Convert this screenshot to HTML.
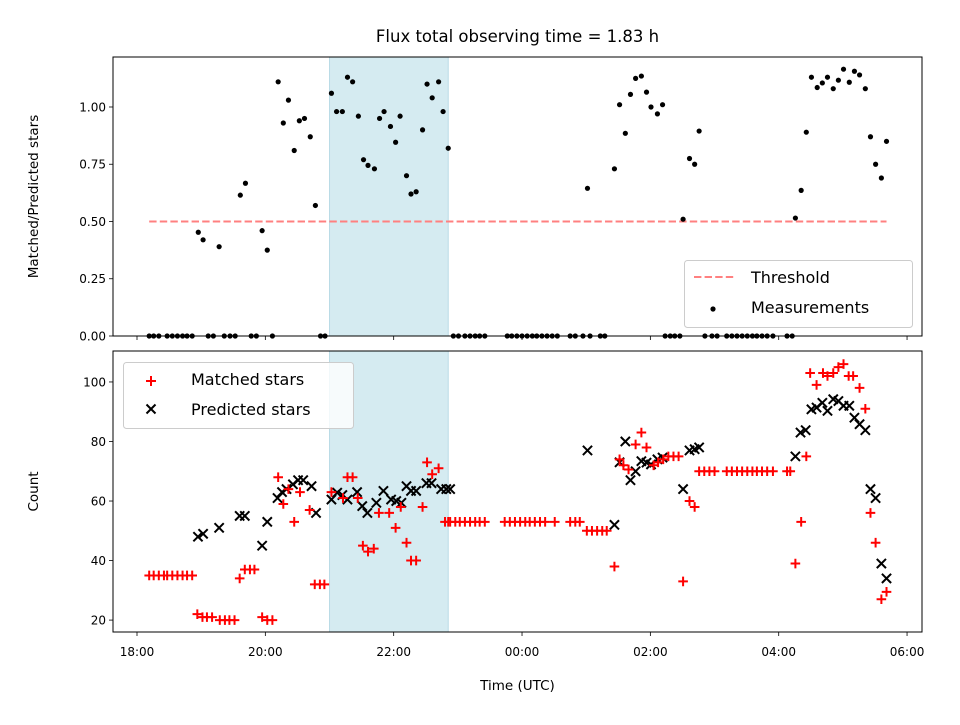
<!DOCTYPE html>
<html><head><meta charset="utf-8"><style>
body{margin:0;background:#fff}
svg text{font-family:"DejaVu Sans","Liberation Sans",sans-serif;fill:#000}
</style></head><body>
<svg id="chart" width="960" height="720" viewBox="0 0 960 720" xmlns="http://www.w3.org/2000/svg">
<rect width="960" height="720" fill="#fff"/>
<text x="517.5" y="42" font-size="16.5" text-anchor="middle">Flux total observing time = 1.83 h</text>
<g id="topPanel"></g><g id="botPanel"></g>
</svg>
<script>
// hours since 18:00
const ratioTimes=[0.19,0.26,0.34,0.47,0.55,0.63,0.71,0.78,0.86,1.11,1.19,1.36,1.45,1.53,1.78,1.86,2.11,2.86,2.93,4.93,5.01,5.11,5.19,5.27,5.34,5.42,5.77,5.84,5.92,6.00,6.08,6.16,6.23,6.31,6.39,6.47,6.55,6.75,6.83,6.95,7.06,7.22,7.29,8.23,8.31,8.38,8.46,8.85,8.96,9.04,9.19,9.27,9.35,9.43,9.51,9.59,9.66,9.74,9.82,9.91,10.13,10.21,
0.955,1.03,1.28,1.61,1.69,1.95,2.03,2.20,2.28,2.36,2.45,2.53,2.61,2.70,2.78,3.03,3.11,3.20,3.28,3.36,3.45,3.53,3.60,3.70,3.78,3.85,3.95,4.03,4.10,4.20,4.27,4.35,4.45,4.52,4.60,4.70,4.77,4.85,
7.02,7.44,7.52,7.61,7.69,7.77,7.86,7.94,8.01,8.11,8.19,8.51,8.61,8.69,8.76,10.26,10.35,10.43,10.51,10.60,10.68,10.76,10.85,10.93,11.01,11.10,11.18,11.26,11.35,11.43,11.51,11.60,11.68];
const ratioValues=[0,0,0,0,0,0,0,0,0,0,0,0,0,0,0,0,0,0,0,0,0,0,0,0,0,0,0,0,0,0,0,0,0,0,0,0,0,0,0,0,0,0,0,0,0,0,0,0,0,0,0,0,0,0,0,0,0,0,0,0,0,0,
0.453,0.42,0.39,0.615,0.667,0.46,0.375,1.11,0.93,1.03,0.81,0.94,0.95,0.87,0.57,1.06,0.98,0.98,1.13,1.11,0.96,0.77,0.745,0.73,0.95,0.98,0.915,0.846,0.96,0.70,0.62,0.63,0.90,1.10,1.04,1.11,0.98,0.82,
0.645,0.73,1.01,0.885,1.055,1.125,1.135,1.065,1.00,0.97,1.01,0.51,0.775,0.75,0.895,0.515,0.636,0.89,1.13,1.085,1.105,1.13,1.08,1.117,1.165,1.108,1.156,1.14,1.08,0.87,0.75,0.69,0.85];
const thresholdValue=0.5, thresholdStart=0.19, thresholdEnd=11.68;
const shadeStart=3.0, shadeEnd=4.85;
const matchedTimes=[0.19,0.26,0.34,0.42,0.47,0.55,0.63,0.71,0.78,0.86,0.94,1.02,1.09,1.17,1.29,1.37,1.44,1.52,1.95,2.03,2.11,1.60,1.68,1.76,1.83,2.77,2.85,2.92,
2.20,2.28,2.36,2.45,2.54,2.69,3.03,3.21,3.28,3.36,3.44,3.52,3.60,3.69,3.77,3.93,4.03,4.11,4.20,4.27,4.35,4.45,4.52,4.60,4.70,4.80,4.85,
4.88,4.96,5.03,5.11,5.19,5.27,5.34,5.42,5.73,5.81,5.89,5.97,6.05,6.12,6.20,6.28,6.36,6.51,6.75,6.83,6.90,7.01,7.09,7.17,7.25,7.32,7.44,
7.52,7.58,7.66,7.77,7.86,7.94,8.05,8.12,8.20,8.28,8.36,8.44,8.51,8.61,8.69,8.76,8.84,8.92,9.00,9.19,9.27,9.35,9.43,9.51,9.59,9.66,9.74,9.82,9.91,10.13,10.18,
10.26,10.35,10.43,10.49,10.59,10.69,10.76,10.85,10.93,11.01,11.09,11.16,11.26,11.35,11.43,11.51,11.60,11.68];
const matchedValues=[35,35,35,35,35,35,35,35,35,35,22,21,21,21,20,20,20,20,21,20,20,34,37,37,37,32,32,32,
68,59,64,53,63,57,63,61,68,68,61,45,43,44,56,56,51,58,46,40,40,58,73,69,71,53,53,
53,53,53,53,53,53,53,53,53,53,53,53,53,53,53,53,53,53,53,53,53,50,50,50,50,50,38,
74,72,70.6,79,83,78,72,73,74,75,75,75,33,60,58,70,70,70,70,70,70,70,70,70,70,70,70,70,70,70,70,
39,53,75,103,99,103,102,103,105,106,102,102,98,91,56,46,27,29.5];
const predictedTimes=[0.95,1.03,1.28,1.60,1.68,1.95,2.03,2.19,2.26,2.33,2.43,2.51,2.59,2.72,2.79,3.03,3.12,3.20,3.28,3.43,3.51,3.59,3.73,3.84,3.96,4.04,4.12,4.20,4.27,4.35,4.51,4.59,4.74,4.82,4.88,
7.02,7.44,7.52,7.61,7.69,7.77,7.86,7.94,8.01,8.11,8.19,8.51,8.61,8.69,8.76,10.26,10.34,10.42,10.51,10.59,10.68,10.76,10.85,10.93,11.01,11.10,11.18,11.26,11.35,11.43,11.51,11.60,11.68];
const predictedValues=[48,49,51,55,55,45,53,61,63,64,65.6,67,67,65,56,60.5,62.8,62,60.5,63,58.3,56,59.4,63.4,60.5,60,59.4,65,63.4,63.4,66,66,64,64,64,
77,52,73,80,67,70,73.4,72.9,72.3,74,74.6,64,77,77.4,78,75,83,83.8,90.8,91.4,93,90.3,94.2,93.6,92,92,88,85.8,83.8,64,61,39,34];
const xTickHours=[0,2,4,6,8,10,12];
const xTickLabels=["18:00","20:00","22:00","00:00","02:00","04:00","06:00"];
const topTicks=[0,0.25,0.5,0.75,1.0];
const topTickLabels=["0.00","0.25","0.50","0.75","1.00"];
const botTicks=[20,40,60,80,100];
const botTickLabels=["20","40","60","80","100"];

const NS="http://www.w3.org/2000/svg";
const L=113,R=922,xMin=-0.374,xMax=12.233;
const xs=h=>L+(h-xMin)/(xMax-xMin)*(R-L);
const T1=57,B1=336,yT=v=>B1-(v-0)/(1.2183-0)*(B1-T1);
const T2=351,B2=632,yB=v=>B2-(v-16.0)/(110.4-16.0)*(B2-T2);
function mk(tag,attrs,parent){const e=document.createElementNS(NS,tag);for(const k in attrs)e.setAttribute(k,attrs[k]);parent.appendChild(e);return e;}
const topG=document.getElementById('topPanel'),botG=document.getElementById('botPanel');

function panel(g,T,B,yf,ticks,labels,name,ylab,showX){
  let s=mk('rect',{x:xs(shadeStart),y:T,width:xs(shadeEnd)-xs(shadeStart),height:B-T,fill:'#d5ebf1',stroke:'#b9dbe6','stroke-width':1},g);
  
  
  ticks.forEach((v,i)=>{
    const y=yf(v);
    let t=mk('line',{x1:L-4,x2:L,y1:y,y2:y,stroke:'#000','stroke-width':0.8},g);
    
    
    let tx=mk('text',{x:L-7,y:y+4.5,'font-size':12,'text-anchor':'end'},g);tx.textContent=labels[i];
    
    
  });
  xTickHours.forEach((h,i)=>{
    const x=xs(h);
    let t=mk('line',{x1:x,x2:x,y1:B,y2:B+4,stroke:'#000','stroke-width':0.8},g);
    
    
    if(showX){let tx=mk('text',{x:x,y:B+24,'font-size':12,'text-anchor':'middle'},g);tx.textContent=xTickLabels[i];
      
      }
  });
  const yl=mk('text',{transform:`translate(38,${(T+B)/2}) rotate(-90)`,'font-size':13.5,'text-anchor':'middle'},g);yl.textContent=ylab;
  
  
}
panel(topG,T1,B1,yT,topTicks,topTickLabels,'top','Matched/Predicted stars',false);
panel(botG,T2,B2,yB,botTicks,botTickLabels,'bottom','Count',true);

let th=mk('line',{x1:xs(thresholdStart),x2:xs(thresholdEnd),y1:yT(thresholdValue),y2:yT(thresholdValue),stroke:'#ff8080','stroke-width':2,'stroke-dasharray':'7.4,3.2'},topG);


ratioTimes.forEach((h,i)=>{
  let c=mk('circle',{cx:xs(h),cy:yT(ratioValues[i]),r:2.6,fill:'#000'},topG);
  
  
});
const pr=4.6;
predictedTimes.forEach((h,i)=>{
  const x=xs(h),y=yB(predictedValues[i]);
  let p=mk('path',{d:`M${x-pr},${y-pr}L${x+pr},${y+pr}M${x-pr},${y+pr}L${x+pr},${y-pr}`,stroke:'#000','stroke-width':2,fill:'none'},botG);
  
  
});
const mr=4.8;
matchedTimes.forEach((h,i)=>{
  const x=xs(h),y=yB(matchedValues[i]);
  let p=mk('path',{d:`M${x-mr},${y}L${x+mr},${y}M${x},${y-mr}L${x},${y+mr}`,stroke:'#ff0000','stroke-width':2,fill:'none'},botG);
  
  
});
[[T1,B1,topG,'top-axes-frame'],[T2,B2,botG,'bottom-axes-frame']].forEach(a=>{
  let r=mk('rect',{x:L,y:a[0],width:R-L,height:a[1]-a[0],fill:'none',stroke:'#000','stroke-width':1},a[2]);
  
  
});
</script>
<svg style="position:absolute;left:0;top:0" width="960" height="720" xmlns="http://www.w3.org/2000/svg">
<g>
<rect x="684.5" y="260.5" width="228" height="67" rx="3" fill="#fff" fill-opacity="0.8" stroke="#ccc"/>
<line x1="694" x2="735" y1="277" y2="277" stroke="#ff8080" stroke-width="2" stroke-dasharray="7.4,3.2"/>
<text x="751" y="283" font-size="16">Threshold</text>
<circle cx="713" cy="309" r="2.6" fill="#000"/>
<text x="751" y="313" font-size="16">Measurements</text>
</g>
<g>
<rect x="123.5" y="362.5" width="230" height="66" rx="3" fill="#fff" fill-opacity="0.8" stroke="#ccc"/>
<path d="M146,381h10M151,376v10" stroke="#f00" stroke-width="2"/>
<text x="191" y="385" font-size="16">Matched stars</text>
<path d="M146.5,404.5l9,9M146.5,413.5l9,-9" stroke="#000" stroke-width="2"/>
<text x="191" y="415" font-size="16">Predicted stars</text>
</g>
<text x="517.5" y="690" font-size="13.5" text-anchor="middle" font-family="DejaVu Sans, Liberation Sans, sans-serif">Time (UTC)</text>
</svg>
</body></html>
